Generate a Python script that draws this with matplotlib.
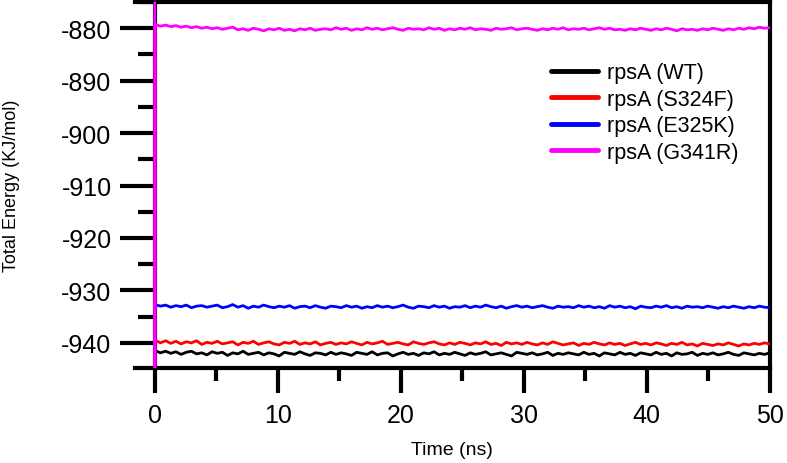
import numpy as np
import matplotlib
matplotlib.use("Agg")
import matplotlib.pyplot as plt
from matplotlib.ticker import MultipleLocator

plt.rcParams["font.family"] = ["Liberation Sans", "DejaVu Sans"]
plt.rcParams["axes.unicode_minus"] = False

#-----------------------------------------------------------------------
# Data (energies, KJ/mol)
#-----------------------------------------------------------------------
labels = ["rpsA (WT)", "rpsA (S324F)", "rpsA (E325K)", "rpsA (G341R)"]
colors = ["black", "#ff0000", "#0000ff", "#ff00ff"]

wt = [
    -941.5, -941.9, -941.6, -942.0, -941.7, -942.2, -941.8, -941.6, -942.1, -941.9, -942.3, -941.7,
    -942.0, -941.8, -942.4, -941.9, -942.1, -941.6, -942.2, -942.0, -941.8, -942.3, -941.9, -942.1,
    -942.5, -941.8, -942.0, -942.2, -941.7, -942.1, -942.4, -941.9, -942.0, -942.3, -941.8, -942.2,
    -941.9, -942.1, -942.4, -941.8, -942.0, -942.2, -941.7, -942.3, -942.0, -941.9, -942.5, -942.1,
    -941.8, -942.2, -942.0, -942.4, -941.9, -942.1, -941.7, -942.3, -942.0, -942.2, -941.8, -942.1,
    -942.4, -941.9, -942.2, -942.0, -941.7, -942.3, -942.1, -941.9, -942.2, -942.5, -941.8, -942.0,
    -942.2, -941.9, -942.3, -942.1, -941.8, -942.4, -942.0, -942.2, -941.9, -942.1, -942.3, -941.8,
    -942.2, -942.0, -942.5, -941.9, -942.1, -942.3, -941.8, -942.2, -942.0, -942.4, -941.9, -942.1,
    -942.3, -941.8, -942.2, -942.0, -942.5, -941.9, -942.2, -942.1, -941.8, -942.4, -942.0, -942.2,
    -941.9, -942.3, -942.1, -941.8, -942.2, -942.4, -941.9, -942.1, -942.3, -942.0, -942.2, -941.9,
]

s324f = [
    -939.5, -940.0, -939.6, -940.1, -939.7, -940.2, -939.8, -940.0, -939.6, -940.3, -939.9, -940.1,
    -939.7, -940.2, -940.0, -939.8, -940.4, -939.9, -940.1, -939.7, -940.3, -940.0, -939.8, -940.2,
    -940.4, -939.9, -940.1, -939.7, -940.3, -940.0, -940.2, -939.8, -940.4, -940.1, -939.9, -940.3,
    -940.0, -940.2, -939.8, -940.1, -940.4, -939.9, -940.2, -940.0, -939.7, -940.3, -940.1, -939.9,
    -940.2, -940.4, -939.8, -940.1, -940.3, -940.0, -939.8, -940.2, -940.4, -940.0, -940.3, -939.9,
    -940.1, -940.4, -940.0, -940.2, -939.8, -940.3, -940.1, -940.5, -939.9, -940.2, -940.0, -940.3,
    -939.9, -940.2, -940.4, -940.0, -940.3, -939.8, -940.1, -940.4, -940.2, -940.0, -940.5, -940.1,
    -940.3, -939.9, -940.2, -940.4, -940.0, -940.3, -940.1, -940.5, -940.2, -939.9, -940.3, -940.1,
    -940.4, -940.0, -940.2, -940.5, -940.1, -940.3, -939.9, -940.4, -940.2, -940.6, -940.1, -940.3,
    -940.5, -940.2, -940.4, -940.0, -940.3, -940.6, -940.2, -940.4, -940.1, -940.3, -940.0, -940.2,
]

e325k = [
    -932.7, -933.0, -932.8, -933.2, -932.9, -933.1, -932.8, -933.3, -933.0, -932.9, -933.2, -933.0,
    -932.8, -933.3, -933.1, -932.7, -933.2, -932.9, -933.4, -933.0, -933.2, -932.8, -933.1, -933.3,
    -933.0, -933.2, -932.9, -933.4, -933.1, -933.0, -933.3, -932.9, -933.2, -933.4, -933.0, -933.1,
    -933.3, -932.9, -933.2, -933.0, -933.4, -933.1, -933.3, -932.9, -933.2, -933.0, -933.3, -933.1,
    -932.8, -933.2, -933.4, -933.0, -933.1, -933.3, -932.9, -933.2, -933.0, -933.4, -933.1, -933.2,
    -932.9, -933.3, -933.0, -933.2, -932.8, -933.1, -933.3, -933.0, -933.4, -933.1, -932.9, -933.2,
    -933.0, -933.3, -933.1, -932.9, -933.2, -933.4, -933.0, -933.2, -933.1, -933.3, -932.9, -933.2,
    -933.0, -933.3, -933.1, -933.4, -932.9, -933.2, -933.0, -933.3, -933.1, -933.5, -933.0, -933.2,
    -933.3, -933.0, -933.2, -932.9, -933.3, -933.1, -933.4, -933.0, -933.2, -933.1, -933.3, -933.0,
    -933.2, -933.4, -933.1, -933.3, -933.0, -933.2, -933.4, -933.1, -933.3, -933.0, -933.2, -933.3,
]

g341r = [
    -879.3, -879.6, -879.4, -879.7, -879.5, -879.8, -879.6, -879.9, -879.7, -880.0, -879.8, -880.1,
    -879.9, -880.2, -880.0, -879.8, -880.3, -880.1, -880.4, -880.0, -880.2, -880.5, -880.1, -880.3,
    -880.0, -880.4, -880.2, -880.5, -880.1, -880.3, -880.0, -880.4, -880.2, -880.1, -880.3, -879.9,
    -880.2, -880.0, -880.4, -880.1, -880.3, -879.9, -880.2, -880.0, -880.3, -880.1, -879.9, -880.2,
    -880.4, -880.0, -880.2, -880.1, -880.3, -879.9, -880.2, -880.0, -880.4, -880.1, -880.3, -880.0,
    -880.2, -879.9, -880.3, -880.1, -880.2, -880.4, -880.0, -880.2, -880.1, -879.9, -880.3, -880.1,
    -880.0, -880.2, -880.4, -880.1, -880.3, -880.0, -880.2, -879.9, -880.3, -880.1, -880.2, -880.0,
    -880.3, -880.1, -879.9, -880.2, -880.0, -880.3, -880.2, -880.4, -880.1, -880.3, -880.0, -880.2,
    -880.4, -880.1, -880.3, -880.0, -880.2, -880.5, -880.1, -880.3, -880.2, -880.4, -880.1, -880.3,
    -880.0, -880.2, -880.4, -880.1, -880.3, -880.0, -880.2, -879.9, -880.1, -879.8, -880.0, -879.9,
]

# G341R equilibration spike at the very start of the run
g341r_start_time = [0.0, 0.02, 0.05]
g341r_start = [-800.0, -1000.0, -879.4]

time = np.linspace(0.05, 50, len(wt))

#-----------------------------------------------------------------------
# Plot
#-----------------------------------------------------------------------
fig = plt.figure(figsize=(7.87, 4.64), dpi=100)
ax = fig.add_axes([0.1715, 0.2047, 0.8065, 0.7888])

series = [wt, s324f, e325k, g341r]
for i, (vals, lab, col) in enumerate(zip(series, labels, colors)):
    t = time
    y = vals
    if i == 3:
        t = np.concatenate([g341r_start_time, time])
        y = g341r_start + vals
    ax.plot(t, y, color=col, lw=2.0, label=lab, zorder=3 + i * 0.1)

ax.set_xlim(-1.6, 50)
ax.set_ylim(-944.8, -875)

for s in ax.spines.values():
    s.set_linewidth(3.0)
ax.spines["left"].set_position(("data", 0))

ax.xaxis.set_major_locator(MultipleLocator(10))
ax.xaxis.set_minor_locator(MultipleLocator(5))
ax.yaxis.set_major_locator(MultipleLocator(10))
ax.yaxis.set_minor_locator(MultipleLocator(5))

ax.tick_params(axis="x", which="major", direction="out", length=18, width=3.0, labelsize=18, pad=7)
ax.tick_params(axis="x", which="minor", direction="out", length=9.5, width=3.0)
ax.tick_params(axis="y", which="major", direction="out", length=25, width=3.0, labelsize=18, pad=6)
ax.tick_params(axis="y", which="minor", direction="out", length=12, width=3.0)

ax.set_xlabel("Time (ns)", fontsize=14)
ax.set_ylabel("Total Energy (KJ/mol)", fontsize=13)
ax.xaxis.set_label_coords(0.5, -0.2)
ax.yaxis.set_label_coords(-0.181, 0.5)

leg = ax.legend(loc="upper left", bbox_to_anchor=(0.655, 0.835), frameon=False,
                fontsize=15.5, handlelength=2.2, handletextpad=0.4,
                labelspacing=0.25, borderpad=0, borderaxespad=0)
for line in leg.get_lines():
    line.set_linewidth(3.5)
    line.set_solid_capstyle("round")

fig.savefig("out.png", dpi=100)
